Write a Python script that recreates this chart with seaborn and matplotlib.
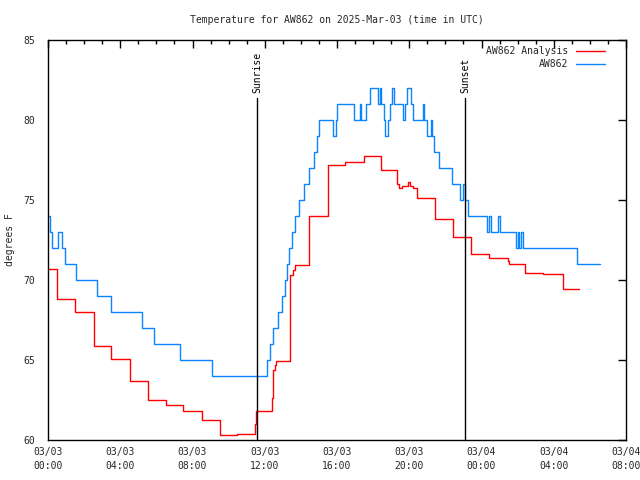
import matplotlib
matplotlib.use("Agg")
import matplotlib.pyplot as plt
import matplotlib.ticker as mticker
import seaborn as sns
import pandas as pd

# ---- data (hours since 2025-03-03 00:00 UTC) ----
obs_hours = [0.00, 0.10, 0.22, 0.58, 0.78, 0.95, 1.55, 2.70, 3.50, 5.18, 5.85, 7.33, 9.07,
             12.10, 12.30, 12.45, 12.75, 12.95, 13.10, 13.22, 13.35, 13.50, 13.65, 13.90,
             14.15, 14.45, 14.75, 14.90, 15.03, 15.78, 15.92, 16.02, 16.92, 17.26, 17.33,
             17.58, 17.82, 18.25, 18.38, 18.46, 18.58, 18.68, 18.80, 18.92, 19.05, 19.15,
             19.65, 19.75, 19.85, 20.12, 20.22, 20.78, 20.84, 21.00, 21.22, 21.26, 21.38,
             21.62, 22.35, 22.83, 22.97, 23.10, 23.28, 24.32, 24.41, 24.50, 24.90, 25.00,
             25.93, 26.03, 26.10, 26.20, 26.32, 29.30, 30.56]
obs_temp = [74, 73, 72, 73, 72, 71, 70, 69, 68, 67, 66, 65, 64,
            65, 66, 67, 68, 69, 70, 71, 72, 73, 74, 75,
            76, 77, 78, 79, 80, 79, 80, 81, 80, 81, 80,
            81, 82, 81, 82, 81, 80, 79, 80, 81, 82, 81,
            80, 81, 82, 81, 80, 81, 80, 79, 80, 79, 78,
            77, 76, 75, 76, 75, 74, 73, 74, 73, 74, 73,
            72, 73, 72, 73, 72, 71, 71]

ana_hours = [0.00, 0.52, 1.52, 2.52, 3.50, 4.52, 5.52, 6.53, 7.50, 8.52, 9.53, 10.47,
             11.47, 11.52, 12.42, 12.47, 12.55, 12.62, 13.40, 13.55, 13.70, 14.47, 15.48,
             16.47, 17.47, 18.42, 19.32, 19.42, 19.60, 19.95, 20.05, 20.20, 20.42, 21.42,
             22.42, 23.42, 24.42, 25.45, 25.52, 26.42, 27.40, 28.50, 29.42]
ana_temp = [70.7, 68.8, 68.0, 65.9, 65.05, 63.7, 62.5, 62.2, 61.8, 61.25, 60.3, 60.35,
            61.0, 61.8, 62.6, 64.4, 64.7, 64.95, 70.3, 70.6, 70.95, 74.0, 77.2,
            77.35, 77.75, 76.9, 76.0, 75.75, 75.9, 76.1, 75.9, 75.75, 75.15, 73.8,
            72.7, 71.6, 71.4, 71.2, 71.0, 70.45, 70.4, 69.45, 69.45]

sunrise_h = 11.57
sunset_h = 23.09
station = "AW862"
title = "Temperature for AW862 on 2025-Mar-03 (time in UTC)"
ylabel = "degrees F"
start_day = 3

# ---- plot ----
sns.set_style("white")
mono = ["DejaVu Sans Mono", "DejaVu Sans"]
plt.rcParams["font.family"] = mono
plt.rcParams["font.size"] = 7

fig = plt.figure(figsize=(6.4, 4.8), dpi=100)
ax = fig.add_axes([48 / 640, 40 / 480, (626 - 48) / 640, 400 / 480])

df_ana = pd.DataFrame({"h": ana_hours, "t": ana_temp})
df_obs = pd.DataFrame({"h": obs_hours, "t": obs_temp})
sns.lineplot(data=df_ana, x="h", y="t", ax=ax, color="#ff0000", lw=1.0,
             drawstyle="steps-post", estimator=None, sort=False,
             label=f"{station} Analysis")
sns.lineplot(data=df_obs, x="h", y="t", ax=ax, color="#0a84ff", lw=1.0,
             drawstyle="steps-post", estimator=None, sort=False,
             label=station)

top_line = 81.35
for h, name in [(sunrise_h, "Sunrise"), (sunset_h, "Sunset")]:
    ax.plot([h, h], [60, top_line], color="black", lw=1.0)
    ax.text(h, top_line + 0.35, name, rotation=90, ha="center", va="bottom",
            fontsize=7, color="black")

ax.set_xlim(0, 32)
ax.set_ylim(60, 85)
ax.xaxis.set_major_locator(mticker.MultipleLocator(4))
ax.xaxis.set_minor_locator(mticker.MultipleLocator(1))
ax.yaxis.set_major_locator(mticker.MultipleLocator(5))


def fmt(v, pos):
    h = int(round(v))
    return f"03/{start_day + h // 24:02d}\n{h % 24:02d}:00"


ax.xaxis.set_major_formatter(mticker.FuncFormatter(fmt))
ax.tick_params(axis="both", which="both", direction="in", top=True, right=True,
               labelsize=7, color="black")
ax.tick_params(axis="both", which="major", length=6, width=1)
ax.tick_params(axis="y", which="major", pad=9)
ax.tick_params(axis="x", which="major", pad=5)
ax.tick_params(axis="x", which="minor", length=3, width=1)
for lab in ax.get_xticklabels():
    lab.set_linespacing(1.45)

for s in ax.spines.values():
    s.set_color("black")
    s.set_linewidth(1.0)

ax.set_xlabel("")
ax.set_ylabel(ylabel, fontsize=7, labelpad=6)
ax.set_title(title, fontsize=7, pad=12)

leg = ax.legend(loc="upper right", bbox_to_anchor=(0.975, 1.0), frameon=False,
                markerfirst=False, fontsize=7, handlelength=3.0,
                handletextpad=0.8, labelspacing=0.3, borderaxespad=0.25)

fig.savefig("out.png", dpi=100)
